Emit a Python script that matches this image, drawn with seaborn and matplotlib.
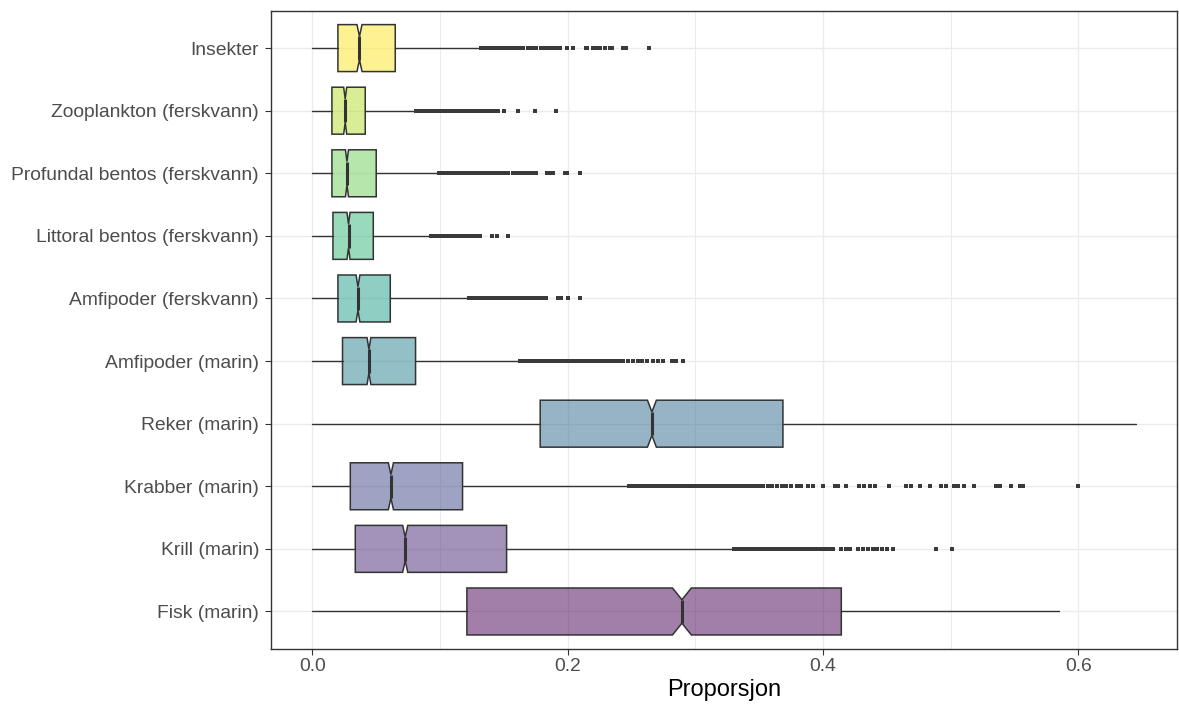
import numpy as np
import pandas as pd
import matplotlib
matplotlib.use("Agg")
import matplotlib.pyplot as plt
from matplotlib.colors import to_rgba
import seaborn as sns

# kategorier, ovenfra og ned
categories = ["Insekter", "Zooplankton (ferskvann)", "Profundal bentos (ferskvann)",
              "Littoral bentos (ferskvann)", "Amfipoder (ferskvann)", "Amfipoder (marin)",
              "Reker (marin)", "Krabber (marin)", "Krill (marin)", "Fisk (marin)"]

# boksstatistikk lest av figuren
q1 = [0.0201, 0.0154, 0.0154, 0.0162, 0.0201, 0.0237, 0.1785, 0.0298, 0.0337, 0.1211]
median = [0.0370, 0.0258, 0.0272, 0.0284, 0.0358, 0.0444, 0.2660, 0.0616, 0.0728, 0.2895]
q3 = [0.0650, 0.0415, 0.0501, 0.0478, 0.0611, 0.0809, 0.3686, 0.1177, 0.1522, 0.4143]
whisker_lo = [0.0, 0.0, 0.0, 0.0, 0.0, 0.0, 0.0, 0.0, 0.0, 0.0]
whisker_hi = [0.1308, 0.0799, 0.0977, 0.0916, 0.1219, 0.1623, 0.6453, 0.2467, 0.3284, 0.5850]
notch_half = [0.002, 0.0012, 0.0012, 0.0012, 0.0015, 0.0015, 0.0035, 0.002, 0.002, 0.0074]

# uteliggere
insekter_out = [0.132, 0.135, 0.138, 0.141, 0.144, 0.147, 0.150, 0.153, 0.156, 0.159, 0.162,
                0.165, 0.169, 0.172, 0.175, 0.179, 0.182, 0.185, 0.188, 0.191, 0.194, 0.1995,
                0.204, 0.214, 0.2155, 0.220, 0.222, 0.225, 0.229, 0.233, 0.235, 0.243, 0.246,
                0.264]
zooplankton_out = [0.081, 0.084, 0.087, 0.090, 0.093, 0.096, 0.099, 0.102, 0.105, 0.108, 0.111,
                   0.114, 0.117, 0.120, 0.123, 0.125, 0.128, 0.130, 0.133, 0.135, 0.138, 0.140,
                   0.143, 0.1455, 0.150, 0.161, 0.1745, 0.191]
profundal_out = [0.099, 0.102, 0.105, 0.108, 0.111, 0.114, 0.117, 0.120, 0.123, 0.126, 0.129,
                 0.132, 0.135, 0.138, 0.141, 0.144, 0.147, 0.150, 0.153, 0.157, 0.160, 0.163,
                 0.166, 0.169, 0.172, 0.175, 0.184, 0.1865, 0.1885, 0.198, 0.1995, 0.210]
littoral_out = [0.093, 0.096, 0.099, 0.102, 0.105, 0.108, 0.111, 0.114, 0.117, 0.120, 0.123,
                0.126, 0.128, 0.131, 0.1405, 0.1445, 0.153]
amf_fersk_out = [0.123, 0.126, 0.129, 0.132, 0.135, 0.138, 0.141, 0.144, 0.147, 0.150, 0.153,
                 0.156, 0.159, 0.162, 0.165, 0.168, 0.171, 0.174, 0.177, 0.180, 0.183, 0.1925,
                 0.195, 0.2005, 0.210]
amf_marin_out = [0.163, 0.166, 0.169, 0.172, 0.175, 0.178, 0.181, 0.184, 0.187, 0.190, 0.193,
                 0.196, 0.199, 0.202, 0.205, 0.208, 0.211, 0.214, 0.217, 0.220, 0.223, 0.2255,
                 0.228, 0.231, 0.234, 0.237, 0.2405, 0.243, 0.2475, 0.251, 0.255, 0.258, 0.262,
                 0.2665, 0.271, 0.275, 0.282, 0.2845, 0.290]
reker_out = []
krabber_out = [0.248, 0.251, 0.254, 0.257, 0.260, 0.263, 0.266, 0.269, 0.272, 0.275, 0.278,
               0.281, 0.284, 0.287, 0.290, 0.293, 0.296, 0.299, 0.302, 0.305, 0.308, 0.311,
               0.314, 0.317, 0.320, 0.323, 0.326, 0.329, 0.332, 0.335, 0.338, 0.341, 0.344,
               0.347, 0.350, 0.353, 0.357, 0.360, 0.364, 0.368, 0.371, 0.375, 0.380, 0.383,
               0.388, 0.392, 0.400, 0.409, 0.4115, 0.418, 0.428, 0.432, 0.437, 0.441, 0.452,
               0.465, 0.469, 0.476, 0.484, 0.4925, 0.4965, 0.5024, 0.5055, 0.5106, 0.518,
               0.5356, 0.5388, 0.547, 0.554, 0.5568, 0.600]
krill_out = [0.330, 0.333, 0.336, 0.339, 0.342, 0.345, 0.348, 0.351, 0.354, 0.357, 0.360,
             0.363, 0.366, 0.369, 0.372, 0.375, 0.378, 0.381, 0.384, 0.387, 0.390, 0.393,
             0.396, 0.399, 0.402, 0.405, 0.408, 0.414, 0.418, 0.421, 0.427, 0.431, 0.435,
             0.439, 0.442, 0.446, 0.450, 0.455, 0.4885, 0.501]
fisk_out = []

out_lists = [insekter_out, zooplankton_out, profundal_out, littoral_out, amf_fersk_out,
             amf_marin_out, reker_out, krabber_out, krill_out, fisk_out]

sns.set_theme(style="white")
plt.rcParams["font.family"] = ["Liberation Sans", "DejaVu Sans"]

df_out = pd.DataFrame({
    "kategori": np.repeat(categories, [len(o) for o in out_lists]),
    "verdi": np.concatenate([np.asarray(o, dtype=float) for o in out_lists]),
})

cmap = sns.color_palette("viridis", as_cmap=True)
colors = [cmap(v) for v in np.linspace(1, 0, len(categories))]

fig, ax = plt.subplots(figsize=(11.79, 7.07), dpi=100)
fig.subplots_adjust(left=0.2299, right=0.9987, bottom=0.082, top=0.9851)

sns.stripplot(data=df_out, x="verdi", y="kategori", order=categories, jitter=False,
              color="#3a3a3a", size=2.3, marker="s", linewidth=0, ax=ax)

stats = []
for i, cat in enumerate(categories):
    stats.append({
        "label": cat, "med": median[i], "q1": q1[i], "q3": q3[i],
        "whislo": whisker_lo[i], "whishi": whisker_hi[i], "fliers": [],
        "cilo": median[i] - notch_half[i], "cihi": median[i] + notch_half[i],
    })

grey20 = "#333333"
bp = ax.bxp(stats, positions=range(len(categories)), widths=0.75, orientation="horizontal",
            shownotches=True, showcaps=False, showfliers=False, patch_artist=True,
            manage_ticks=False,
            boxprops=dict(edgecolor=grey20, linewidth=1.1),
            whiskerprops=dict(color=grey20, linewidth=1.0),
            medianprops=dict(color=grey20, linewidth=2.2, solid_capstyle="butt"))
for patch, c in zip(bp["boxes"], colors):
    patch.set_facecolor(to_rgba(c, 0.5))

lo = min(whisker_lo)
hi = max(max(whisker_hi), df_out["verdi"].max())
span = hi - lo
ax.set_xlim(lo - 0.05 * span, hi + 0.05 * span)
ax.set_ylim(len(categories) - 0.4, -0.6)

ax.set_xticks([0.0, 0.2, 0.4, 0.6])
ax.set_xticklabels(["0.0", "0.2", "0.4", "0.6"])
ax.set_xticks([0.1, 0.3, 0.5], minor=True)
ax.set_yticks(range(len(categories)))
ax.set_yticklabels(categories)

ax.set_axisbelow(True)
ax.grid(which="major", axis="both", color="#EBEBEB", linewidth=1.0)
ax.grid(which="minor", axis="x", color="#EBEBEB", linewidth=0.7)

ax.tick_params(which="major", axis="both", length=4.3, width=0.8, color=grey20,
               labelsize=13.85, labelcolor="#4D4D4D")
ax.tick_params(axis="x", pad=2)
ax.tick_params(axis="y", pad=4.3)
ax.tick_params(which="minor", length=0)
ax.tick_params(left=True, bottom=True)

for s in ax.spines.values():
    s.set_visible(True)
    s.set_color(grey20)
    s.set_linewidth(1.0)

ax.set_ylabel("")
ax.set_xlabel("Proporsjon", fontsize=17, color="black", labelpad=3)

fig.savefig("out.png", dpi=100)
